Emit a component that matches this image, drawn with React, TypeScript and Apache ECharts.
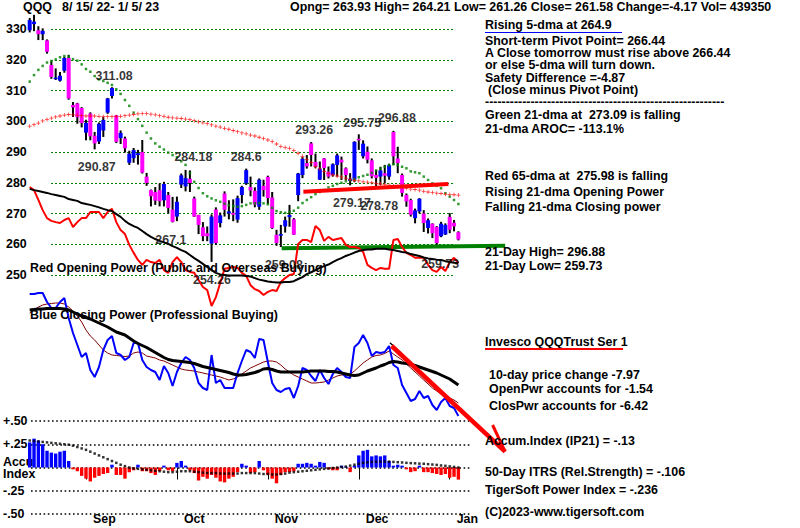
import React, { useEffect, useRef } from "react";
import * as echarts from "echarts";

const FONT_FAMILY = '"Liberation Sans", Arial, sans-serif';
const FS = 12.4;
const FONT = `bold ${FS}px ${FONT_FAMILY}`;

// ---- x axis: 100 trading days, Aug 15 2022 .. Jan 5 2023 ----
const DAY_COUNT = 100;
const DAY_LABELS = Array.from({ length: DAY_COUNT }, (_, i) => "d" + i);
const MONTH_START = [13, 34, 55, 76, 97];
const MONTH_NAMES = ["Sep", "Oct", "Nov", "Dec", "Jan"];

// ---- price ticks ----
const PRICE_MIN = 250;
const PRICE_MAX = 330;
const PRICE_STEP = 10;

// ---- daily OHLC (QQQ) ----
const OPENS = [329.6,331.6,329.6,328.3,326.3,318.3,313.8,313.2,316.4,320.6,
305.3,305.8,304.3,296.3,302.5,295.3,293.4,297.0,302.8,308.2,
301.9,294.5,294.4,286.5,288.0,289.0,290.0,282.0,277.6,277.0,
277.6,274.3,276.0,271.3,269.0,279.4,278.8,281.3,274.9,269.5,
265.5,263.6,260.2,271.3,266.9,276.5,270.0,270.2,268.0,276.0,
279.8,278.6,277.4,272.2,279.0,281.9,275.2,263.1,262.8,265.8,
268.8,268.1,276.0,282.5,286.4,292.8,286.8,281.0,287.9,283.6,
282.5,285.8,287.5,284.7,280.6,281.0,294.3,288.6,290.1,287.3,
282.5,282.0,283.1,282.0,296.5,287.9,282.5,276.0,274.4,268.5,
270.7,270.0,265.3,266.7,265.6,262.6,263.2,268.9,267.0,263.93];
const CLOSES = [332.9,332.4,328.3,329.4,322.6,314.4,314.2,314.8,320.6,307.4,
304.5,301.3,299.4,299.5,295.1,292.8,299.2,300.4,307.4,310.8,
293.3,296.2,291.2,289.4,290.6,289.6,283.3,279.9,275.6,274.2,
274.0,279.6,271.8,267.3,273.8,282.4,281.5,279.9,269.0,266.3,
262.6,262.6,269.0,260.4,269.4,271.2,270.7,269.6,275.0,278.6,
284.1,277.5,272.9,281.0,277.6,275.0,265.3,260.4,263.3,267.8,
269.5,263.1,283.0,287.8,285.3,289.0,285.3,284.6,284.8,282.0,
286.0,288.9,286.6,282.5,281.3,293.3,293.8,292.7,287.5,282.1,
281.6,284.0,282.3,285.7,288.6,286.4,276.7,273.9,269.6,271.0,
274.8,266.9,267.8,263.6,260.4,266.7,266.3,264.7,265.8,261.58];
const LOWS = [328.9,329.3,326.4,326.4,322.0,313.8,313.4,312.9,315.8,307.0,
301.4,299.2,298.0,293.8,293.8,290.87,292.6,294.9,302.4,307.4,
292.9,292.6,289.8,285.8,286.5,285.9,283.0,279.0,272.3,272.8,
272.3,272.3,270.0,267.1,267.5,278.3,277.2,277.0,268.9,263.3,
261.0,261.0,254.26,259.8,265.5,269.0,268.1,267.5,267.0,273.3,
279.3,275.6,272.0,271.2,275.5,273.0,265.0,259.5,259.08,263.8,
265.7,263.0,274.0,281.5,284.6,285.3,284.7,280.9,280.9,281.4,
282.0,282.0,280.9,280.9,279.17,280.2,290.7,287.9,286.3,281.4,
278.78,279.3,279.8,281.0,285.8,283.1,275.5,272.2,269.0,266.8,
270.0,264.0,263.5,262.0,259.73,262.3,263.0,263.6,264.2,261.26];
const HIGHS = [333.6,334.6,330.9,330.2,326.6,319.5,317.2,316.0,320.9,321.6,
306.3,306.0,304.6,300.5,302.9,296.5,299.6,301.4,307.6,311.08,
302.0,297.0,295.0,290.4,291.3,290.7,293.9,283.2,277.8,278.6,
279.8,280.3,277.0,275.4,275.5,283.0,284.18,284.0,275.5,269.6,
267.2,265.8,269.7,272.0,270.3,277.2,274.3,274.6,275.8,279.0,
284.6,282.0,278.5,281.4,281.0,282.3,277.0,264.7,266.3,269.0,
272.8,268.5,283.2,288.4,289.0,293.26,289.5,286.9,288.0,285.3,
286.3,289.5,288.5,285.0,283.1,293.5,295.75,293.8,291.8,287.9,
284.1,285.2,285.8,286.2,296.88,291.7,283.0,276.5,274.8,271.6,
275.0,271.1,268.4,266.8,265.9,267.3,266.8,270.1,267.9,264.21];

// ---- moving averages on the price panel ----
const GREEN_21DMA = [312.9,315.0,316.7,318.0,319.1,319.6,320.1,320.8,321.2,321.0,
320.2,319.7,318.5,317.0,316.1,314.7,313.6,313.1,312.5,311.8,
310.4,308.9,306.9,305.0,302.8,300.7,298.5,296.3,294.4,292.8,
291.7,290.8,289.8,289.0,288.3,287.0,285.8,283.1,280.3,278.3,
276.6,275.6,274.9,274.3,273.8,273.2,272.7,272.4,272.2,272.4,
272.8,273.3,273.3,273.4,273.3,273.0,271.8,270.8,270.4,270.2,
270.5,270.9,271.9,273.4,274.4,275.3,276.3,277.0,277.6,278.5,
279.0,279.6,280.0,280.5,280.8,281.2,281.8,282.2,282.6,283.2,
284.0,284.6,285.2,285.7,286.0,285.8,285.2,284.7,283.7,283.4,
283.1,282.0,280.9,279.8,279.0,278.2,276.6,275.5,274.4,273.09];
const RED_65DMA = [298.4,298.9,299.4,300.1,300.6,301.0,301.4,301.7,302.0,302.2,
302.1,302.0,301.8,301.7,301.7,301.7,301.6,301.5,301.5,301.5,
301.5,301.6,301.8,302.0,302.2,302.4,302.5,302.5,302.3,302.1,
301.8,301.6,301.3,301.1,301.0,300.9,300.7,300.5,300.2,299.8,
299.5,299.2,298.8,298.4,298.1,297.7,297.4,297.0,296.6,296.2,
295.9,295.5,295.2,294.8,294.4,293.9,293.4,292.6,291.8,291.5,
291.2,290.5,289.6,288.5,287.6,286.6,285.3,284.5,283.7,283.0,
282.6,282.2,281.9,281.5,281.1,280.8,280.6,280.3,280.2,280.0,
279.8,279.6,279.4,279.2,279.0,278.7,278.4,278.2,277.9,277.8,
277.6,277.2,277.0,276.8,276.6,276.5,276.3,276.2,276.1,275.98];

// resistance / support lines: [day, price]
const RESISTANCE = [[63.2, 277.1], [96.7, 279.6]];
const SUPPORT = [[58.2, 258.7], [109.8, 259.5]];

// ---- Opening power (red) and its 21-dma (black), drawn on the price scale ----
const OPEN_POWER = [278.6,277.6,274.4,271.1,268.5,267.6,267.2,266.9,267.9,268.5,
265.6,267.2,268.5,268.5,270.5,270.5,270.5,268.5,270.5,271.5,
267.2,264.6,263.3,259.8,257.2,254.9,253.3,254.9,254.2,253.9,
254.9,251.6,250.7,254.2,255.8,254.2,251.6,251.0,250.7,248.4,
246.1,245.1,239.9,242.8,247.4,252.0,252.3,252.6,252.3,250.7,
249.7,246.7,245.4,244.8,243.5,244.5,245.1,244.8,247.7,249.0,
250.0,250.3,260.1,261.4,261.4,260.7,265.9,264.6,261.1,262.4,
261.4,261.7,262.0,259.8,259.1,259.1,258.8,257.5,253.3,252.3,
251.6,252.3,252.0,252.0,261.4,261.7,259.1,257.2,256.5,255.6,
255.6,255.6,253.3,251.6,251.0,252.6,251.3,254.2,255.6,253.9];
const OPEN_POWER_MA = [278.0,277.6,277.3,277.0,276.7,276.3,276.0,275.7,275.4,274.7,
274.4,274.1,273.4,273.1,272.8,272.4,272.0,271.5,271.1,270.8,
269.8,268.9,267.6,266.6,265.9,265.3,264.3,263.3,262.4,261.7,
261.1,260.6,260.1,259.4,258.8,258.1,257.5,256.5,255.5,254.6,
253.6,252.6,251.6,250.7,250.2,250.0,249.8,249.8,249.8,249.8,
249.7,249.5,249.0,248.5,248.2,247.9,247.7,247.6,247.6,247.7,
247.7,248.0,248.7,249.3,250.3,250.9,251.6,252.3,252.9,253.4,
254.2,254.9,255.5,256.2,256.7,257.3,257.8,258.1,258.3,258.3,
258.5,258.5,258.5,258.3,258.1,257.8,257.5,257.3,256.8,256.5,
256.2,255.7,255.4,255.2,255.0,254.9,254.5,254.2,254.0,253.9];

// ---- Closing power panel (unitless) ----
const CLOSE_POWER = [61,61,62,62,53,47,47,53,57,37,
22,10,-2,2,-15,-22,-12,5,15,19,
2,0,-5,-2,12,12,-5,-12,-15,-17,
-25,-11,-18,-31,-17,-8,-2,-5,-13,-28,
-33,-35,0,-28,-25,-33,-33,-33,-18,-6,
5,3,-3,16,15,-7,-28,-35,-37,-34,
-33,-43,-31,-13,-15,-21,-26,-15,-23,-29,
-19,-13,-17,-22,-23,8,12,20,12,-1,
3,2,3,9,-10,-13,-30,-38,-46,-44,
-36,-43,-41,-50,-55,-47,-43,-51,-53,-61];
const CLOSE_POWER_FAST = [42,45,48,50,51,51.5,52,52,51,48,
44,39,33,25,19,15,10,5,2,0,
-0.5,-1,-1.5,-1,2,3,2,-1,-2,-3,
-5,-6,-8,-10,-12,-14,-15,-15.5,-16,-17,
-18,-19,-20,-21,-22,-23.5,-25,-24,-22,-19,
-16,-13,-11,-9,-7,-6,-6,-7,-10,-14,
-17,-20,-22,-24,-26,-28,-28,-27.5,-27,-25,
-23,-21,-20,-20,-19,-16,-12,-8,-5,-2,
-0.5,0,1.5,4,1,-2,-5,-9,-13,-17,
-21,-25,-29,-33,-36,-39,-41,-43,-45,-48];
const CLOSE_POWER_MA = [45,45.5,46,46,46.5,46.5,46.5,46.5,46,45,
43,41,39,37.5,36,34,32,30,28,25.5,
23,21.5,20,17,14,11.5,9.5,7.5,5,2.5,
0,-2.5,-4.5,-5.5,-6,-6.5,-7,-7.5,-8.5,-10,
-11.5,-12.5,-13.5,-14.5,-15.5,-16.5,-17.5,-19,-20,-20,
-19.5,-18.5,-17.5,-16,-14,-13.5,-14.5,-16,-17,-17,
-17,-17,-17,-17,-16.5,-16,-16,-16,-16,-16.5,
-16.5,-17,-18,-19,-20,-20.5,-20,-18,-16,-14.5,
-13,-11,-9.5,-7.5,-6.5,-7,-8,-8.5,-9.5,-10.5,
-12,-13.5,-15,-16.5,-18,-20,-22,-24,-27,-30];
// down-trend arrow drawn on the closing power: [day, value]
const ARROW_SHAFT = [[83.6, 9], [109.8, -96.7]];
const ARROW_EDGE = [[83.2, 12.3], [103.3, -70]];
const ARROW_HEAD = [[106.9, -70], [109.8, -96.7]];

// ---- Accumulation index (IP21) ----
const ACCUM = [0.27,0.31,0.29,0.25,0.18,0.16,0.15,0.17,0.18,0.07,
-0.02,-0.04,-0.09,-0.12,-0.15,-0.11,-0.09,-0.07,-0.06,0.03,
-0.08,-0.08,-0.12,-0.05,-0.03,0.03,-0.04,-0.04,-0.06,-0.08,
-0.04,0.02,-0.03,-0.04,0.05,0.07,0.02,-0.03,-0.06,-0.14,
-0.10,-0.12,-0.08,-0.11,-0.15,-0.16,-0.12,-0.10,-0.05,0.04,
0.02,-0.06,-0.05,0.07,-0.03,-0.08,-0.12,-0.17,-0.08,-0.05,
-0.05,-0.04,0.04,0.04,0.05,0.04,0.02,0.06,0.05,-0.02,
-0.03,-0.03,0.02,0.01,-0.05,0.02,0.13,0.18,0.19,0.12,
0.13,0.12,0.13,0.07,0.02,0.03,0.02,-0.02,-0.05,-0.04,
0.02,-0.05,-0.05,-0.06,-0.07,-0.08,-0.07,-0.11,-0.10,-0.13];
const ACCUM_MA = [0.29,0.285,0.28,0.275,0.27,0.265,0.26,0.255,0.25,0.245,
0.235,0.22,0.205,0.19,0.17,0.15,0.13,0.11,0.09,0.07,
0.05,0.03,0.015,0.0,-0.01,-0.015,-0.02,-0.025,-0.03,-0.035,
-0.04,-0.045,-0.05,-0.05,-0.045,-0.04,-0.04,-0.04,-0.045,-0.05,
-0.055,-0.06,-0.06,-0.06,-0.065,-0.065,-0.065,-0.065,-0.065,-0.06,
-0.06,-0.06,-0.06,-0.065,-0.07,-0.07,-0.075,-0.075,-0.07,-0.065,
-0.055,-0.05,-0.045,-0.04,-0.035,-0.03,-0.025,-0.02,-0.015,-0.01,
-0.005,0.0,0.005,0.01,0.02,0.03,0.04,0.05,0.055,0.06,
0.062,0.064,0.064,0.063,0.06,0.057,0.054,0.05,0.047,0.045,
0.042,0.04,0.036,0.032,0.028,0.022,0.018,0.012,0.006,0.0];
const ACCUM_TICKS = [0.5, 0.25, 0, -0.25, -0.5];
const ACCUM_TICK_LABELS = ["+.50", "+.25", "Accu\nIndex", "-.25", "-.50"];

// ---- annotated highs / lows ----
const ANNOT_DAY = [19, 15, 36, 50, 65, 76, 84, 74, 80, 33, 42, 58, 94];
const ANNOT_KIND = ["H", "L", "H", "H", "H", "H", "H", "L", "L", "L", "L", "L", "L"];
// label centre, in [day, price]
const ANNOT_AT = [[19.5, 314.7], [15.5, 285.2], [37.8, 288.4], [50.0, 288.4], [65.7, 297.2],
  [76.8, 299.4], [84.8, 301.1], [74.4, 273.4], [80.7, 272.5], [32.6, 261.4],
  [42.1, 248.4], [58.7, 253.2], [94.8, 253.6]];

// ---- texts ----
const HEADER_SYMBOL = "QQQ";
const HEADER_RANGE = "8/ 15/ 22- 1/ 5/ 23";
const HEADER_QUOTE = "Opng= 263.93 High= 264.21 Low= 261.26 Close= 261.58 Change=-4.17 Vol= 439350";
const SIDE_TEXTS: [number, number, string][] = [
  [485, 25, "Rising 5-dma at 264.9"],
  [485, 41, "Short-term Pivot Point= 266.44"],
  [485, 53, "A Close tomorrow must rise above 266.44"],
  [485, 65, "or else 5-dma will turn down."],
  [485, 78, "Safety Difference =-4.87"],
  [488, 90, "(Close minus Pivot Point)"],
  [485, 102, "----------------------------------------------------------"],
  [485, 115, "Green 21-dma at  273.09 is falling"],
  [485, 129, "21-dma AROC= -113.1%"],
  [485, 176, "Red 65-dma at  275.98 is falling"],
  [485, 192, "Rising 21-dma Opening Power"],
  [485, 207, "Falling 21-dma Closing power"],
  [485, 252, "21-Day High= 296.88"],
  [485, 266, "21-Day Low= 259.73"],
  [485, 342, "Invesco QQQTrust Ser 1"],
  [489, 375, "10-day price change -7.97"],
  [489, 389, "OpenPwr accounts for -1.54"],
  [489, 406, "ClosPwr accounts for -6.42"],
  [485, 441, "Accum.Index (IP21) = -.13"],
  [485, 472, "50-Day ITRS (Rel.Strength) = -.106"],
  [485, 490, "TigerSoft Power Index = -.236"],
  [485, 512, "(C)2023-www.tigersoft.com"],
  [30, 268, "Red Opening Power (Public and Overseas Buying)"],
  [30, 315, "Blue Closing Power (Professional Buying)"],
];

const PLUS = "path://M2,0L3,0L3,2L5,2L5,3L3,3L3,5L2,5L2,3L0,3L0,2L2,2Z";

function txt(x: number, y: number, text: string) {
  return {
    type: "text", x, y, silent: true, z: 20,
    style: { text, fill: "#000", font: FONT, verticalAlign: "middle", align: "left" },
  };
}

function buildOption() {
  const idx = (arr: number[]) => arr.map((v, i) => [i, v]);
  const labelFont = { fontFamily: FONT_FAMILY, fontSize: FS, fontWeight: "bold", color: "#000" };
  const DATA_LEFT = 27.535;
  const DAY_PX = 4.33;
  const DATA_W = DAY_PX * 100;
  // the day axes of the upper panels run past the last bar so that the
  // support line and the trend arrow can reach into the text column
  const X_MAX_WIDE = 115.5;
  const WIDE_W = DAY_PX * (X_MAX_WIDE + 0.5);

  return {
    animation: false,
    backgroundColor: "#fff",
    grid: [
      { left: DATA_LEFT, top: 29, width: WIDE_W, height: 246 },
      { left: 51, top: 29, width: 402, height: 246 },
      { left: DATA_LEFT, top: 290, width: WIDE_W, height: 130 },
      { left: DATA_LEFT, top: 421, width: DATA_W, height: 93 },
      { left: 30, top: 421, width: 442, height: 93 },
    ],
    xAxis: [
      { gridIndex: 0, type: "value", min: -0.5, max: X_MAX_WIDE, show: false },
      { gridIndex: 1, type: "value", min: 0, max: 1, show: false },
      { gridIndex: 2, type: "value", min: -0.5, max: X_MAX_WIDE, show: false },
      {
        gridIndex: 3, type: "category", data: DAY_LABELS, boundaryGap: true, offset: 2,
        axisLine: { show: false },
        axisTick: {
          show: true, alignWithLabel: true, length: 12,
          interval: (i: number) => MONTH_START.includes(i),
          lineStyle: { color: "#000", width: 1 },
        },
        axisLabel: {
          show: true, ...labelFont, align: "left", margin: -3, padding: [0, 0, 0, 7],
          interval: (i: number) => MONTH_START.includes(i),
          formatter: (_v: string, i: number) => MONTH_NAMES[MONTH_START.indexOf(i)] ?? "",
        },
        splitLine: { show: false },
      },
      { gridIndex: 4, type: "value", min: 0, max: 1, show: false },
    ],
    yAxis: [
      { gridIndex: 0, type: "value", min: PRICE_MIN, max: PRICE_MAX, show: false },
      {
        gridIndex: 1, type: "value", min: PRICE_MIN, max: PRICE_MAX, interval: PRICE_STEP,
        axisLine: { show: false }, axisTick: { show: false },
        axisLabel: { ...labelFont, align: "left", margin: 45 },
        splitLine: { show: true, lineStyle: { color: "#008000", width: 1, type: [2, 2] } },
      },
      { gridIndex: 2, type: "value", min: -65, max: 65, show: false },
      { gridIndex: 3, type: "value", min: -0.5, max: 0.5, show: false },
      {
        gridIndex: 4, type: "value", min: -0.5, max: 0.5, interval: 0.25,
        axisLine: { show: false }, axisTick: { show: false },
        axisLabel: {
          ...labelFont, align: "left", margin: 28, lineHeight: 12,
          formatter: (v: number) => {
            const k = ACCUM_TICKS.findIndex((t) => Math.abs(t - v) < 1e-6);
            return k >= 0 ? ACCUM_TICK_LABELS[k] : "";
          },
        },
        splitLine: { show: true, lineStyle: { color: "#000", width: 1.6, type: [1.6, 2.6] } },
      },
    ],
    series: [
      // candles
      {
        type: "custom", xAxisIndex: 0, yAxisIndex: 0, silent: true, clip: false, z: 3,
        data: OPENS.map((o, i) => [i, o, CLOSES[i], LOWS[i], HIGHS[i]]),
        encode: { x: 0, y: [1, 2, 3, 4] },
        renderItem: (_p: any, api: any) => {
          const i = api.value(0), o = api.value(1), c = api.value(2), l = api.value(3), h = api.value(4);
          const pH = api.coord([i, h]);
          const pL = api.coord([i, l]);
          const pO = api.coord([i, o]);
          const pC = api.coord([i, c]);
          const x = pH[0];
          const by = Math.min(pO[1], pC[1]);
          const bh = Math.max(1.5, Math.abs(pO[1] - pC[1]));
          return {
            type: "group",
            children: [
              { type: "rect", shape: { x: x - 1, y: pH[1], width: 2, height: pL[1] - pH[1] }, style: { fill: "#000" } },
              { type: "rect", shape: { x: x - 2, y: by, width: 4, height: bh }, style: { fill: c >= o ? "#0000ff" : "#ff00ff" } },
            ],
          };
        },
      },
      // green 21-dma dots
      {
        type: "scatter", xAxisIndex: 0, yAxisIndex: 0, silent: true, z: 4,
        symbol: "rect", symbolSize: 2.5, itemStyle: { color: "#008000" },
        data: idx(GREEN_21DMA),
      },
      // red 65-dma pluses
      {
        type: "scatter", xAxisIndex: 0, yAxisIndex: 0, silent: true, z: 4,
        symbol: PLUS, symbolSize: 4, itemStyle: { color: "#ff0000" },
        data: idx(RED_65DMA),
      },
      // resistance / support
      {
        type: "line", xAxisIndex: 0, yAxisIndex: 0, silent: true, clip: false, z: 5,
        symbol: "none", lineStyle: { color: "#ff0000", width: 4 }, data: RESISTANCE,
      },
      {
        type: "line", xAxisIndex: 0, yAxisIndex: 0, silent: true, clip: false, z: 5,
        symbol: "none", lineStyle: { color: "#008000", width: 4 }, data: SUPPORT,
      },
      // opening power
      {
        type: "line", xAxisIndex: 0, yAxisIndex: 0, silent: true, clip: false, z: 5,
        symbol: "none", lineStyle: { color: "#ff0000", width: 2 }, data: idx(OPEN_POWER),
      },
      {
        type: "line", xAxisIndex: 0, yAxisIndex: 0, silent: true, clip: false, z: 5,
        symbol: "none", lineStyle: { color: "#000", width: 2 }, data: idx(OPEN_POWER_MA),
      },
      // annotations
      {
        type: "scatter", xAxisIndex: 0, yAxisIndex: 0, silent: true, clip: false, z: 8,
        symbolSize: 1, itemStyle: { color: "rgba(0,0,0,0)" },
        data: ANNOT_DAY.map((d, k) => ({
          value: ANNOT_AT[k],
          name: String((ANNOT_KIND[k] === "H" ? HIGHS : LOWS)[d]),
        })),
        label: { show: true, position: "inside", formatter: "{b}", ...labelFont },
      },
      // closing power panel
      {
        type: "line", xAxisIndex: 2, yAxisIndex: 2, silent: true, clip: false, z: 5,
        symbol: "none", lineStyle: { color: "#800000", width: 1 }, data: idx(CLOSE_POWER_FAST),
      },
      {
        type: "line", xAxisIndex: 2, yAxisIndex: 2, silent: true, clip: false, z: 5,
        symbol: "none", lineStyle: { color: "#0000ff", width: 2 }, data: idx(CLOSE_POWER),
      },
      {
        type: "line", xAxisIndex: 2, yAxisIndex: 2, silent: true, clip: false, z: 6,
        symbol: "none", lineStyle: { color: "#000", width: 3 }, data: idx(CLOSE_POWER_MA),
      },
      {
        type: "line", xAxisIndex: 2, yAxisIndex: 2, silent: true, clip: false, z: 7,
        symbol: "none", lineStyle: { color: "#000", width: 1.5 }, data: ARROW_EDGE,
      },
      {
        type: "line", xAxisIndex: 2, yAxisIndex: 2, silent: true, clip: false, z: 7,
        symbol: "none", lineStyle: { color: "#ff0000", width: 4.5 }, data: ARROW_SHAFT,
      },
      {
        type: "line", xAxisIndex: 2, yAxisIndex: 2, silent: true, clip: false, z: 7,
        symbol: "none", lineStyle: { color: "#ff0000", width: 3 }, data: ARROW_HEAD,
      },
      // accumulation index
      {
        type: "bar", xAxisIndex: 3, yAxisIndex: 3, silent: true, barWidth: 3.4, z: 4,
        data: ACCUM.map((v) => ({ value: v, itemStyle: { color: v >= 0 ? "#0000ff" : "#ff0000" } })),
      },
      {
        type: "scatter", xAxisIndex: 3, yAxisIndex: 3, silent: true, z: 5,
        symbol: "rect", symbolSize: 2.5, itemStyle: { color: "#000" },
        data: ACCUM_MA.map((v, i) => [i, v]),
      },
    ],
    graphic: {
      elements: [
        txt(23, 7, HEADER_SYMBOL),
        txt(62, 7, HEADER_RANGE),
        txt(290, 7, HEADER_QUOTE),
        ...SIDE_TEXTS.map(([x, y, t]) => txt(x, y, t)),
        { type: "line", silent: true, z: 20, shape: { x1: 485, y1: 32.5, x2: 622, y2: 32.5 }, style: { stroke: "#0000ff", lineWidth: 1 } },
        { type: "line", silent: true, z: 20, shape: { x1: 485, y1: 349, x2: 623, y2: 349 }, style: { stroke: "#ff0000", lineWidth: 2 } },
      ],
    },
  };
}

export default function App() {
  const ref = useRef<HTMLDivElement>(null);
  useEffect(() => {
    if (!ref.current) return;
    const chart = echarts.init(ref.current, null, { renderer: "svg", width: 800, height: 528 });
    chart.setOption(buildOption() as any);
    return () => chart.dispose();
  }, []);
  return (
    <div
      ref={ref}
      style={{ position: "absolute", left: 0, top: 0, width: 800, height: 528, background: "#fff" }}
    />
  );
}
